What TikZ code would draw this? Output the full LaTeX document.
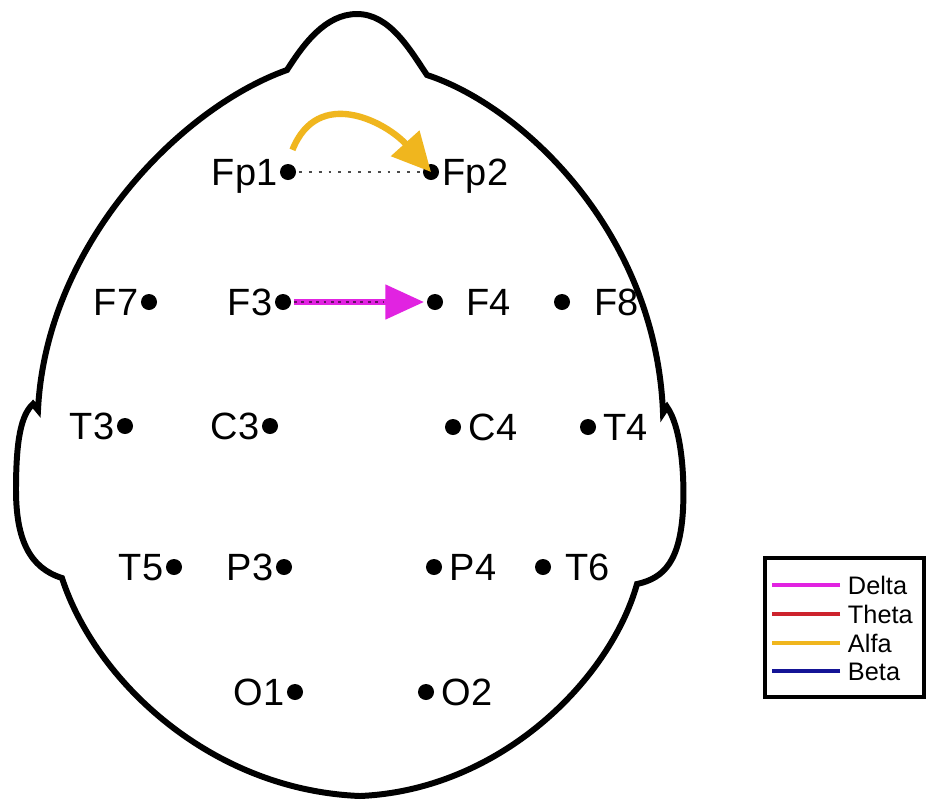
\documentclass[tikz,border=0pt]{standalone}
\usepackage{fontspec}
\setmainfont{Liberation Sans}
\usetikzlibrary{arrows.meta}
\definecolor{dlt}{RGB}{225,35,225}
\definecolor{tht}{RGB}{205,35,45}
\definecolor{alf}{RGB}{240,182,30}
\definecolor{bet}{RGB}{20,20,150}

\begin{document}
\begin{tikzpicture}[x = 0.01cm, y = -0.01cm, line width = 1.7pt,
  el/.style = {circle, fill = black, inner sep = 0pt, minimum size = 0.16cm},
  lbl/.style = {font = \fontsize{10.8}{12}\selectfont, inner sep = 0.5pt, text height = 0.27cm, text depth = 0pt},
  lbll/.style = {lbl, xshift = 0.05cm},
  legtxt/.style = {font = \fontsize{7.2}{8}\selectfont, inner sep = 0pt, anchor = west, text height = 0.18cm, text depth = 0pt},
  link/.style = {line width = 0.6pt, black!70, dash pattern = on 0.8pt off 2pt},
  alfaarrow/.style = {alf, line width = 1.8pt, shorten <= 0.12cm, -{Triangle[length = 11pt, width = 10.5pt]}},
  deltaarrow/.style = {dlt, line width = 1.6pt, -{Triangle[length = 11pt, width = 9.6pt]}},
  deltadots/.style = {line width = 0.8pt, black!55!dlt, dash pattern = on 0.8pt off 1.3pt, shorten >= 0.4cm}]
\useasboundingbox (0,0) rectangle (927,802);
\fill[white] (0,0) rectangle (927,802);
% head outline with nose and ears
\draw (38,410) .. controls (46,245) and (180,108) .. (287,70)
  .. controls (303,45) and (325,14) .. (357,14)
  .. controls (390,14) and (410,50) .. (427,75)
  .. controls (522,106) and (656,232) .. (663,413)
  -- (667,407) .. controls (680,425) and (685,470) .. (683,510)
  .. controls (680,560) and (665,578) .. (637,584)
  .. controls (610,680) and (500,790) .. (360,796)
  .. controls (210,790) and (95,680) .. (62,578)
  .. controls (30,568) and (16,540) .. (16,490)
  .. controls (16,440) and (21,415) .. (33,404) -- cycle;
% electrodes
\node[el, label = {[lbll]left:Fp1}] (Fp1) at (288,172) {};
\node[el, label = {[lbl, xshift = -0.04cm]right:Fp2}] (Fp2) at (431,172) {};
\node[el, label = {[lbll]left:F7}] (F7) at (149,302) {};
\node[el, label = {[lbll]left:F3}] (F3) at (283,302) {};
\node[el, label = {[lbl, xshift = 0.16cm]right:F4}] (F4) at (435,302) {};
\node[el, label = {[lbl, xshift = 0.17cm]right:F8}] (F8) at (562,302) {};
\node[el, label = {[lbll]left:T3}] (T3) at (125,426) {};
\node[el, label = {[lbll]left:C3}] (C3) at (270,426) {};
\node[el, label = {[lbl]right:C4}] (C4) at (453,427) {};
\node[el, label = {[lbl]right:T4}] (T4) at (588,427) {};
\node[el, label = {[lbll]left:T5}] (T5) at (174,567) {};
\node[el, label = {[lbll]left:P3}] (P3) at (284,567) {};
\node[el, label = {[lbl]right:P4}] (P4) at (434,567) {};
\node[el, label = {[lbl, xshift = 0.07cm]right:T6}] (T6) at (543,567) {};
\node[el, label = {[lbll]left:O1}] (O1) at (295,692) {};
\node[el, label = {[lbl]right:O2}] (O2) at (426,692) {};
% connections
\draw[link] (Fp1) -- (Fp2);
\draw[alfaarrow] (Fp1.north) .. controls +(30,-75) and +(-45,-50) .. (Fp2.center);
\draw[deltaarrow] (F3.east) -- (F4.west);
\draw[deltadots] (F3.east) -- (F4.west);
% legend
\draw[line width = 1.1pt] (765,558) rectangle (924,697);
\foreach \nm/\col/\yy in {Delta/dlt/585, Theta/tht/614, Alfa/alf/643, Beta/bet/671}
{
  \node[legtxt] (leg\nm) at (845,\yy) {\nm};
  \draw[\col, line width = 1.2pt] ([xshift = -0.05cm]leg\nm.west) -- ++(-68,0);
}
\end{tikzpicture}
\end{document}
